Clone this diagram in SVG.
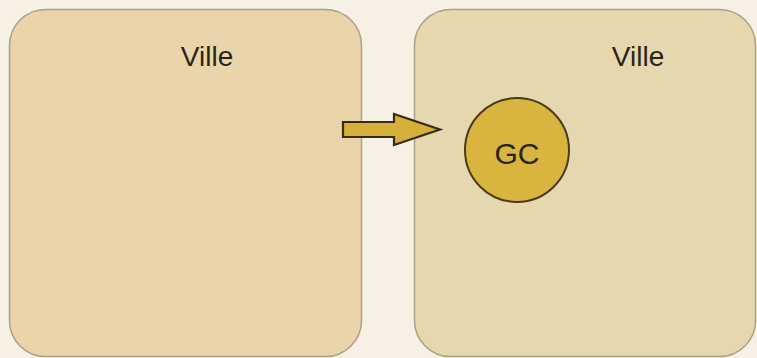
<svg xmlns="http://www.w3.org/2000/svg" width="757" height="358" viewBox="0 0 757 358">
<style>
.box{stroke:#ab9f88;stroke-width:1.5}
.lbl{font-family:"Liberation Sans",Arial,sans-serif;font-size:28px;fill:#2a2418;text-anchor:middle}
</style>
<rect x="0" y="0" width="757" height="358" fill="#f7f0e5"/>
<g id="ville1">
<rect class="box" x="9.5" y="9.5" width="352" height="347" rx="36" fill="#ead5ab"/>
<text class="lbl" x="207" y="66">Ville</text>
</g>
<g id="ville2">
<rect class="box" x="414.5" y="9.5" width="341" height="347" rx="36" fill="#e6d8ae"/>
<text class="lbl" x="638" y="66">Ville</text>
</g>
<g id="gc">
<circle cx="517" cy="150" r="52" fill="#d9b540" stroke="#4a3a18" stroke-width="2"/>
<text class="lbl" x="517" y="164" style="font-size:30px">GC</text>
</g>
<g id="connectors">
<polygon points="343,122 394,122 394,114 440,129.5 394,145 394,137 343,137" fill="#d4b03a" stroke="#3b2a10" stroke-width="2.2" stroke-linejoin="miter"/>
</g>
</svg>
